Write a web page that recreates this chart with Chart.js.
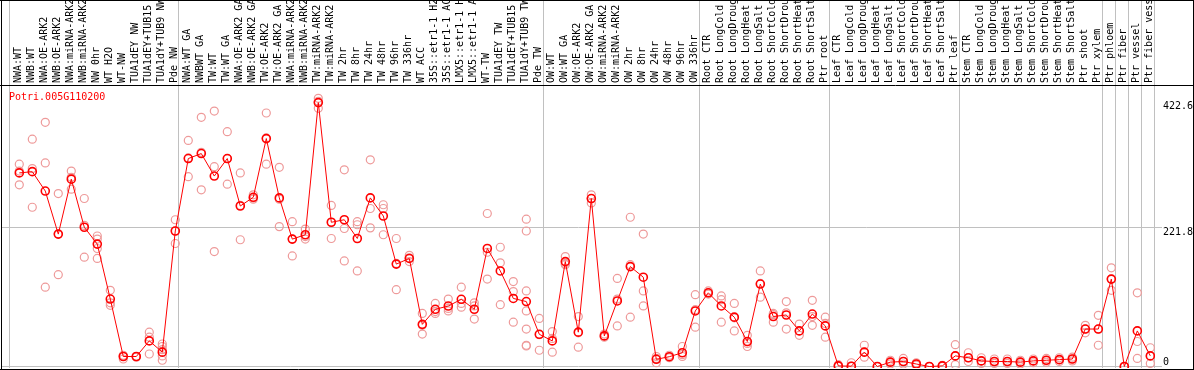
<!DOCTYPE html>
<html lang="en">
<head>
  <meta charset="UTF-8" />
  <title>Potri.005G110200</title>
  <script src="https://cdn.jsdelivr.net/npm/chart.js"></script>
  <style>
    html, body { margin: 0; padding: 0; background: #fff; }
    canvas { display: block; }
  </style>
</head>
<body>
  <canvas id="chart" width="1194" height="370"></canvas>

  <script>
    const geneName = 'Potri.005G110200';

    const labels = [
      'NWA:WT', 'NWB:WT', 'NWA:OE-ARK2', 'NWB:OE-ARK2', 'NWA:miRNA-ARK2', 'NWB:miRNA-ARK2',
      'NW 0hr', 'WT H2O', 'WT-NW', 'TUA1dEY NW', 'TUA1dEY+TUB15', 'TUA1dY+TUB9 NW', 'Pde NW',
      'NWA:WT GA', 'NWBWT GA', 'TW:WT', 'TW:WT GA', 'NWA:OE-ARK2 GA', 'NWB:OE-ARK2 GA',
      'TW:OE-ARK2', 'TW:OE-ARK2 GA', 'NWA:miRNA-ARK2', 'NWB:miRNA-ARK2', 'TW:miRNA-ARK2',
      'TW:miRNA-ARK2', 'TW 2hr', 'TW 8hr', 'TW 24hr', 'TW 48hr', 'TW 96hr', 'TW 336hr',
      'WT ACC', '35S::etr1-1 H2O', '35S::etr1-1 ACC', 'LMX5::etr1-1 H2O', 'LMX5::etr1-1 ACC',
      'WT-TW', 'TUA1dEY TW', 'TUA1dEY+TUB15', 'TUA1dY+TUB9 TW', 'Pde TW',
      'OW:WT', 'OW:WT GA', 'OW:OE-ARK2', 'OW:OE-ARK2 GA', 'OW:miRNA-ARK2', 'OW:miRNA-ARK2',
      'OW 2hr', 'OW 8hr', 'OW 24hr', 'OW 48hr', 'OW 96hr', 'OW 336hr',
      'Root CTR', 'Root LongCold', 'Root LongDrought', 'Root LongHeat', 'Root LongSalt',
      'Root ShortCold', 'Root ShortDrought', 'Root ShortHeat', 'Root ShortSalt', 'Ptr root',
      'Leaf CTR', 'Leaf LongCold', 'Leaf LongDrought', 'Leaf LongHeat', 'Leaf LongSalt',
      'Leaf ShortCold', 'Leaf ShortDrought', 'Leaf ShortHeat', 'Leaf ShortSalt', 'Ptr leaf',
      'Stem CTR', 'Stem LongCold', 'Stem LongDrought', 'Stem LongHeat', 'Stem LongSalt',
      'Stem ShortCold', 'Stem ShortDrought', 'Stem ShortHeat', 'Stem ShortSalt', 'Ptr shoot',
      'Ptr xylem', 'Ptr phloem', 'Ptr fiber', 'Ptr vessel', 'Ptr fiber vessel'
    ];

    // mean expression per sample
    const means = [
      310, 312, 281, 212, 300, 223, 196, 108, 16, 16, 41, 23, 217,
      333, 341, 305, 333, 257, 271, 365, 270, 204, 211, 422.6, 231, 235, 205, 270, 241, 164,
      173, 67.5, 91.6, 96.9, 107.6, 91.6, 189, 153, 109, 104, 51.6,
      41, 168, 55, 269, 49, 105, 160, 143, 11.5, 15.7, 22, 89,
      118, 97, 79, 40, 132, 80, 82.5, 57, 84, 65,
      1, 0.5, 23, 0, 7, 8, 4, 0, 1, 17,
      14, 9, 8, 8, 7, 9, 10, 11, 12, 60, 60,
      140, 0, 57, 17
    ];

    // individual replicates per sample
    const reps = [
      [324, 313, 291], [364, 317, 255], [391, 326, 127], [277, 212, 147], [313, 303, 284],
      [269, 226, 175], [209, 204, 189, 173], [122, 102, 98], [18, 16, 12], [16, 15, 16],
      [55, 47, 20], [36, 32, 27, 17, 10], [235, 217, 197],
      [362, 334, 304], [399, 343, 283], [409, 320, 184], [376, 333, 292], [310, 258, 203],
      [275, 270, 268], [406, 366, 324], [319, 268, 224], [232, 204, 177], [220, 208, 204],
      [429.5, 424.8, 413.5], [258, 231, 205], [315, 221, 169], [232, 227, 153], [331, 253, 222],
      [259, 253, 211], [205, 165, 123], [178, 174, 168], [85, 66, 52], [101, 88, 85],
      [108, 93, 89], [127, 101, 95], [102, 97, 76], [245, 183, 140], [191, 166, 99],
      [136, 120, 71], [236, 217, 121, 89, 60, 34, 33], [77, 51, 26],
      [56, 45, 23], [176, 165, 163], [80, 54, 31], [275, 269, 262], [52, 49, 47],
      [141, 108, 65], [239, 163, 79], [212, 121, 97], [16, 13, 6], [18, 15, 14],
      [32, 19, 16], [115, 91, 63],
      [121, 118, 116], [113, 107, 71], [101, 78, 57], [50, 37, 32], [153, 133, 111],
      [85, 83, 71], [104, 86, 60], [68, 57, 50], [106, 80, 66], [79, 69, 47],
      [3, 1, 0], [6, 0.5, 0], [34, 23, 15], [0, 0, 0], [10, 7, 4],
      [13, 8, 4], [6, 4, 2], [0, 0, 0], [2, 1, 0], [35, 17, 3],
      [22, 14, 8], [14, 9, 5], [12, 8, 5], [12, 8, 5], [10, 7, 4],
      [12, 9, 6], [13, 10, 7], [14, 11, 8], [15, 12, 9], [66, 60, 54], [82, 60, 34],
      [158, 140, 122], [0, 0, 0], [118, 40, 13], [30, 17, 5]
    ];

    // sample index where each group starts (last one closes the plot)
    const groupStarts = [0, 13, 41, 53, 63, 73, 84, 85, 86, 87, 88];
    const yTicks = [0, 221.8, 422.6];

    const meanPoints = means.map((v, i) => ({ x: i, y: v }));
    const repPoints = [];
    reps.forEach((r, i) => r.forEach(v => repPoints.push({ x: i, y: v })));

    const monoFont = { family: 'DejaVu Sans Mono', size: 10 };

    function noPadding(s) {
      s.paddingLeft = 0;
      s.paddingRight = 0;
      s.paddingTop = 0;
      s.paddingBottom = 0;
    }

    const framePlugin = {
      id: 'frame',
      afterDraw(chart) {
        const c = chart.ctx;
        const a = chart.chartArea;
        c.save();
        c.strokeStyle = '#000';
        c.lineWidth = 1;
        c.beginPath();
        c.moveTo(0, 0.5); c.lineTo(chart.width, 0.5);
        c.moveTo(1.5, 0); c.lineTo(1.5, 370);
        c.moveTo(1193.5, 0); c.lineTo(1193.5, 370);
        c.moveTo(0, 369.5); c.lineTo(chart.width, 369.5);
        c.moveTo(0, a.top + 0.5); c.lineTo(chart.width, a.top + 0.5);
        c.stroke();
        c.fillStyle = '#ff0000';
        c.font = '10px "DejaVu Sans Mono"';
        c.textBaseline = 'middle';
        c.textAlign = 'left';
        c.fillText(geneName, 9, 97);
        c.restore();
      }
    };

    new Chart(document.getElementById('chart'), {
      type: 'scatter',
      data: {
        datasets: [
          {
            label: 'mean',
            data: meanPoints,
            showLine: true,
            borderColor: '#ff0000',
            borderWidth: 1,
            pointRadius: 4,
            pointBorderWidth: 1.6,
            pointBorderColor: '#ff0000',
            pointBackgroundColor: 'rgba(0,0,0,0)',
            tension: 0
          },
          {
            label: 'replicates',
            data: repPoints,
            showLine: false,
            pointRadius: 4,
            pointBorderWidth: 1.2,
            pointBorderColor: '#ee9a9a',
            pointBackgroundColor: 'rgba(0,0,0,0)'
          }
        ]
      },
      options: {
        responsive: false,
        animation: false,
        layout: { autoPadding: false, padding: { left: 2, right: 1, top: 0, bottom: 2 } },
        plugins: {
          legend: { display: false },
          tooltip: { enabled: false }
        },
        scales: {
          x: {
            type: 'linear',
            position: 'top',
            weight: 1,
            min: -1.33,
            max: 87.36,
            afterBuildTicks: s => { s.ticks = labels.map((_, i) => ({ value: i })); },
            afterFit: s => { s.height = 85; noPadding(s); },
            grid: { display: false, drawTicks: false, tickLength: 0 },
            border: { display: false },
            ticks: {
              autoSkip: false,
              minRotation: 90,
              maxRotation: 90,
              padding: 2,
              labelOffset: 11,
              color: '#000',
              font: monoFont,
              callback: v => labels[Math.round(v)]
            }
          },
          sep: {
            type: 'linear',
            position: 'top',
            weight: 0,
            min: -1.33,
            max: 87.36,
            afterBuildTicks: s => { s.ticks = groupStarts.map(i => ({ value: i - 0.715 })); },
            afterFit: s => { s.height = 0; noPadding(s); },
            border: { display: false },
            grid: { color: '#c0c0c0', drawTicks: true, tickLength: 85 },
            ticks: { display: false }
          },
          y: {
            type: 'linear',
            position: 'right',
            min: -2.4,
            max: 450.8,
            afterBuildTicks: s => { s.ticks = yTicks.map(v => ({ value: v })); },
            afterFit: s => { s.width = 38; noPadding(s); },
            border: { display: false },
            grid: {
              color: c => (c.tick && c.tick.value === 422.6) ? 'rgba(0,0,0,0)' : '#c0c0c0',
              tickLength: 7
            },
            ticks: {
              padding: 1,
              color: '#000',
              font: { family: 'DejaVu Sans Mono', size: 10, lineHeight: 0.8 },
              callback: v => v === 0 ? ['0', ''] : ['', String(v)]
            }
          }
        }
      },
      plugins: [framePlugin]
    });
  </script>
</body>
</html>
